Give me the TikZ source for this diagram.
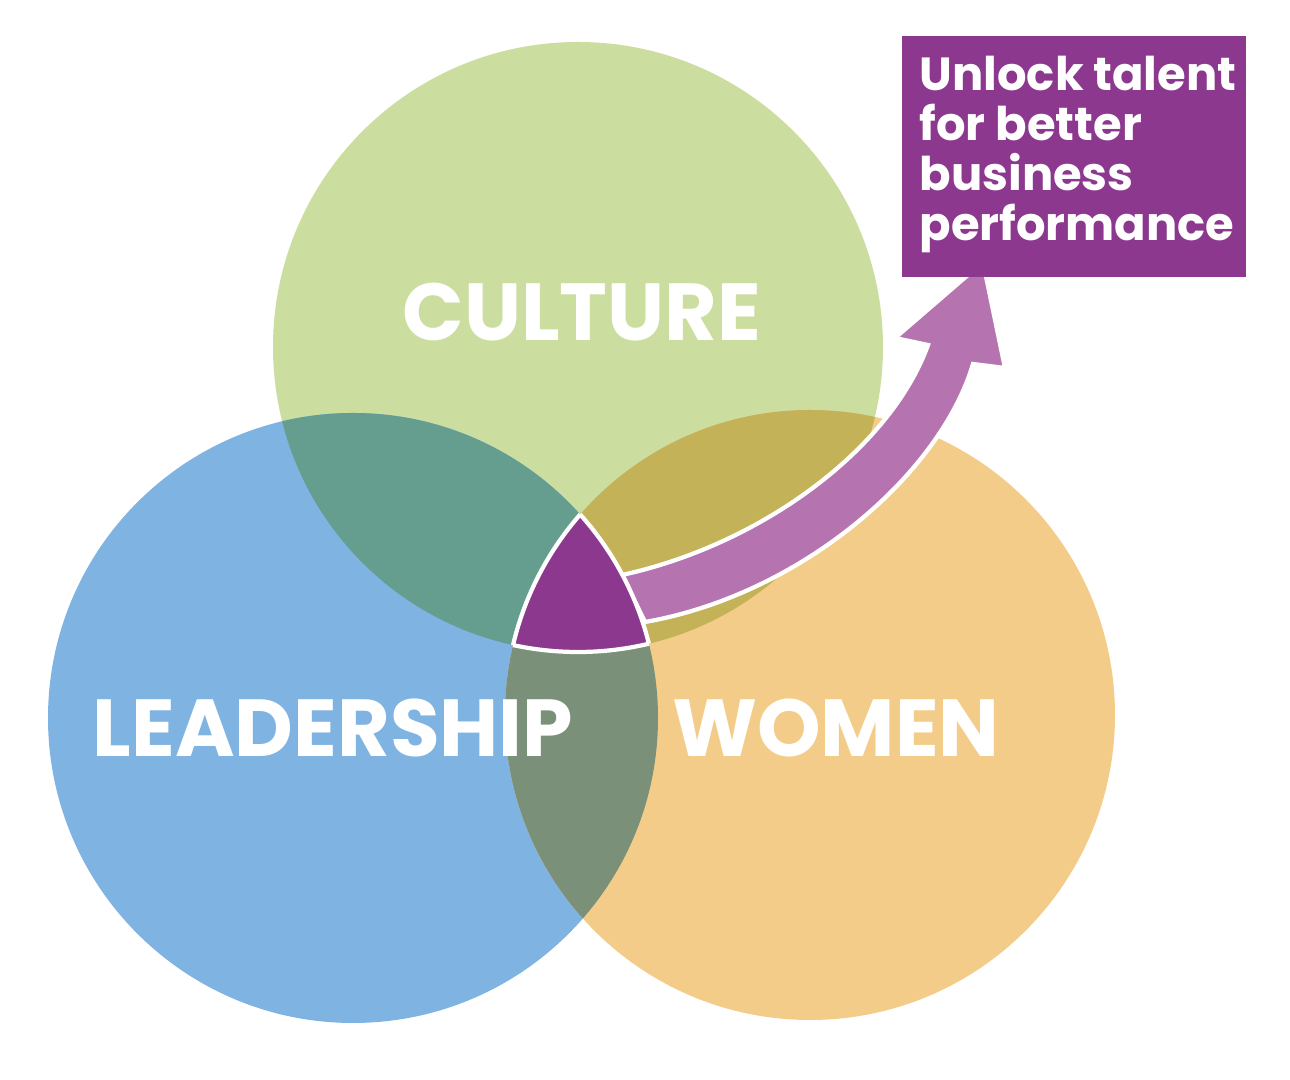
\documentclass[tikz,border=0pt]{standalone}
\usepackage{fontspec}
\setmainfont{Poppins}
\begin{document}
\begin{tikzpicture}[x=0.01cm,y=-0.01cm]
\definecolor{cultgreen}{HTML}{CCDDA0}
\definecolor{leadblue}{HTML}{7FB3E2}
\definecolor{womorange}{HTML}{F4CC8A}
\definecolor{clmix}{HTML}{659E8F}
\definecolor{cwmix}{HTML}{C3B258}
\definecolor{lwmix}{HTML}{7A9078}
\definecolor{corepurple}{HTML}{8B388E}
\definecolor{arrowpink}{HTML}{B574B0}
\tikzset{
  biglabel/.style={text=white,font=\bfseries\fontsize{23}{26}\selectfont},
  goalbox/.style={fill=corepurple,text=white,align=left,inner sep=0pt,
    font=\bfseries\fontsize{13.2}{14.3}\selectfont}
}
\useasboundingbox (0,0) rectangle (1290,1080);
\coordinate (C) at (578,347);
\coordinate (L) at (353,718);
\coordinate (W) at (810,715);
\def\rad{305}

\fill[cultgreen] (C) circle (\rad);
\fill[leadblue] (L) circle (\rad);
\fill[womorange] (W) circle (\rad);
% pairwise overlaps
\begin{scope}
  \clip (C) circle (\rad);
  \fill[clmix] (L) circle (\rad);
  \fill[cwmix] (W) circle (\rad);
\end{scope}
\begin{scope}
  \clip (L) circle (\rad);
  \fill[lwmix] (W) circle (\rad);
\end{scope}

% arrow
\draw[fill=arrowpink,draw=white,line width=1.2pt,line join=miter]
  (622,575) .. controls (760,545) and (890,450) .. (928,345)
  -- (895,338) -- (983,262) -- (1005,368) -- (973,364)
  .. controls (940,475) and (800,595) .. (645,622) -- cycle;

% core
\begin{scope}
  \clip (C) circle (\rad);
  \clip (L) circle (\rad);
  \fill[corepurple] (W) circle (\rad);
\end{scope}
\begin{scope}
  \clip (L) circle (\rad); \clip (W) circle (\rad);
  \draw[white,line width=1.2pt] (C) circle (\rad);
\end{scope}
\begin{scope}
  \clip (C) circle (\rad); \clip (W) circle (\rad);
  \draw[white,line width=1.2pt] (L) circle (\rad);
\end{scope}
\begin{scope}
  \clip (C) circle (\rad); \clip (L) circle (\rad);
  \draw[white,line width=1.2pt] (W) circle (\rad);
\end{scope}

\node[biglabel] (culture) at (582,312) {CULTURE};
\node[biglabel] (leadership) at (333,728) {LEADERSHIP};
\node[biglabel] (women) at (836,728) {WOMEN};

\fill[corepurple] (902,36) rectangle (1246,277);
\node[goalbox,anchor=north west] (goal) at (919,55)
  {Unlock talent\\for better\\business\\performance};
\end{tikzpicture}
\end{document}
